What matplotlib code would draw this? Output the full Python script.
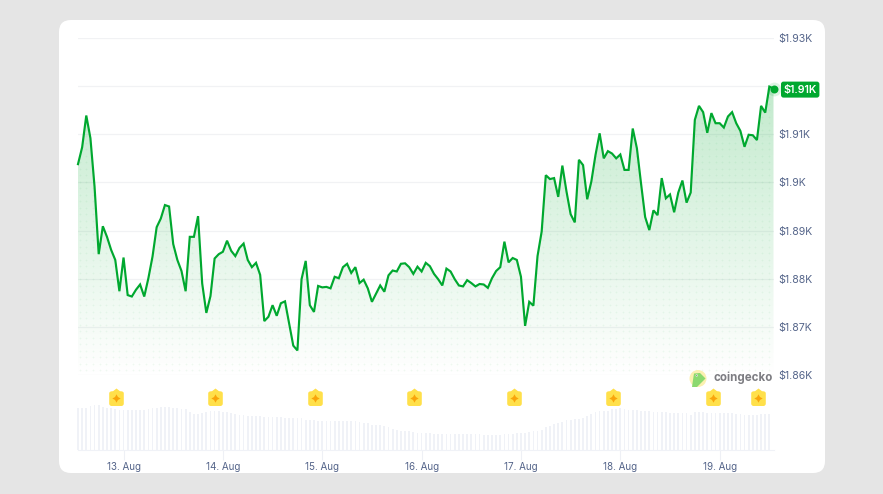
import numpy as np
import matplotlib
matplotlib.use("Agg")
import matplotlib.pyplot as plt
from matplotlib.patches import FancyBboxPatch, Circle, Polygon
from matplotlib.path import Path
from matplotlib.transforms import IdentityTransform

plt.rcParams['font.family'] = ['Inter', 'DejaVu Sans']

# hourly prices in USD, from the start of the window
prices = [
    1903.8, 1907.3, 1913.9, 1909.2, 1899.1, 1885.1, 1890.9, 1888.7, 1886.0, 1883.9,
    1877.4, 1884.4, 1876.6, 1876.3, 1877.7, 1878.8, 1876.3, 1880.1, 1884.6, 1890.7,
    1892.5, 1895.3, 1895.0, 1887.2, 1883.9, 1881.6, 1877.4, 1888.7, 1888.7, 1893.0,
    1879.0, 1872.9, 1876.4, 1884.2, 1885.1, 1885.6, 1887.9, 1885.8, 1884.7, 1886.4,
    1887.3, 1883.9, 1882.4, 1883.3, 1880.8, 1871.2, 1872.1, 1874.5, 1872.3, 1874.9,
    1875.3, 1870.7, 1866.1, 1865.1, 1879.9, 1883.7, 1874.5, 1873.1, 1878.5, 1878.2,
    1878.3, 1878.0, 1880.4, 1880.1, 1882.4, 1883.1, 1881.2, 1882.4, 1879.1, 1879.8,
    1878.0, 1875.2, 1876.9, 1878.6, 1877.3, 1880.7, 1881.7, 1881.5, 1883.1, 1883.2,
    1882.4, 1881.0, 1882.5, 1881.5, 1883.3, 1882.6, 1881.0, 1879.9, 1878.6, 1882.1,
    1881.5, 1879.9, 1878.6, 1878.4, 1879.7, 1879.1, 1878.4, 1878.9, 1878.8, 1878.1,
    1880.1, 1881.6, 1882.4, 1887.7, 1883.4, 1884.3, 1883.9, 1880.4, 1870.2, 1875.2,
    1874.4, 1884.7, 1889.8, 1901.5, 1900.7, 1900.9, 1897.0, 1903.5, 1898.1, 1893.4,
    1891.7, 1904.7, 1903.6, 1896.5, 1900.2, 1905.7, 1910.2, 1905.0, 1906.5, 1906.0,
    1905.0, 1905.8, 1902.6, 1902.6, 1911.2, 1907.1, 1899.8, 1892.8, 1890.1, 1894.2,
    1893.2, 1900.9, 1896.7, 1897.5, 1893.8, 1897.9, 1900.4, 1895.8, 1897.9, 1913.0,
    1915.9, 1914.6, 1910.3, 1914.4, 1912.3, 1912.3, 1911.4, 1913.7, 1914.6, 1912.3,
    1910.7, 1907.4, 1909.9, 1909.8, 1908.8, 1915.9, 1914.5, 1919.9, 1919.5,
]

# volume, arbitrary units (no scale shown on the chart)
volumes = [
    41.7, 41.7, 41.7, 44.0, 44.7, 45.0, 42.7, 42.3, 42.0, 41.0,
    40.0, 39.7, 39.7, 39.7, 39.7, 40.0, 40.3, 41.0, 42.0, 42.5,
    43.0, 43.0, 42.7, 42.5, 42.0, 41.0, 40.7, 38.0, 36.0, 36.0,
    37.0, 38.0, 38.7, 38.7, 38.7, 38.0, 37.7, 37.0, 36.5, 35.5,
    35.0, 34.0, 33.7, 33.7, 33.7, 33.3, 33.0, 33.0, 33.0, 32.7,
    32.5, 32.5, 32.5, 32.5, 32.5, 30.0, 29.8, 29.7, 29.5, 29.3,
    29.3, 29.3, 29.3, 29.3, 29.0, 29.0, 29.0, 29.0, 28.3, 27.5,
    27.0, 25.5, 25.3, 25.0, 24.5, 23.0, 21.5, 20.5, 19.5, 19.0,
    18.7, 18.0, 17.3, 17.3, 17.0, 16.8, 16.4, 16.4, 16.3, 16.3,
    16.3, 16.3, 16.3, 16.3, 16.3, 16.3, 16.2, 16.0, 15.5, 15.0,
    14.7, 15.0, 15.4, 15.7, 16.0, 16.3, 16.6, 17.0, 17.3, 18.0,
    18.8, 19.5, 20.0, 23.3, 24.5, 26.0, 27.3, 28.5, 29.7, 30.2,
    30.7, 31.2, 31.7, 34.0, 36.0, 37.7, 39.3, 39.3, 39.3, 41.0,
    41.3, 41.7, 40.8, 40.0, 40.3, 39.8, 39.3, 39.0, 38.7, 38.4,
    38.0, 37.8, 37.7, 37.5, 37.3, 37.0, 36.8, 36.7, 35.3, 37.7,
    37.8, 38.0, 37.5, 37.0, 37.0, 36.8, 36.7, 36.7, 36.7, 36.4,
    36.0, 35.5, 35.0, 35.2, 35.5, 35.7, 36.0, 36.3,
]

hours = np.arange(len(prices))
vol_hours = np.arange(len(volumes))

y_ticks = [1860, 1870, 1880, 1890, 1900, 1910, 1920, 1930]
y_labels = ['$1.86K', '$1.87K', '$1.88K', '$1.89K', '$1.9K', '$1.91K', '', '$1.93K']
day_hours = [11, 35, 59, 83, 107, 131, 155]
day_labels = ['13. Aug', '14. Aug', '15. Aug', '16. Aug', '17. Aug', '18. Aug', '19. Aug']
event_hours = [9.2, 33.2, 57.3, 81.2, 105.3, 129.2, 153.3, 164.2]
last_label = '$1.91K'

GREEN = '#00a82f'
TEXT = '#55658a'
W, H = 883, 494


# figure coords from reference pixel coords
def fx(x):
    return x / W


def fy(y):
    return 1 - y / H


def add_px_patch(p, z=5):
    # patch given in display pixels, y up
    p.set_transform(IdentityTransform())
    p.set_zorder(z)
    p.set_figure(fig)
    fig.patches.append(p)


fig = plt.figure(figsize=(W / 100, H / 100), dpi=100, facecolor='#e5e5e5')

# white card
add_px_patch(FancyBboxPatch((59, H - 473), 766, 453, boxstyle='round,pad=0,rounding_size=12',
                            facecolor='white', edgecolor='none'), z=-1)

left, right = 78, 773.5

# price panel
ax = fig.add_axes([fx(left), fy(375), (right - left) / W, (375 - 38) / H])
ax.patch.set_alpha(0)
for s in ax.spines.values():
    s.set_visible(False)

# gradient under the line, clipped to the area
area = ax.fill_between(hours, prices, 1859.5, color='none', lw=0)
clip = area.get_paths()[0]
grad = np.zeros((256, 2, 4))
grad[..., :3] = matplotlib.colors.to_rgb(GREEN)
grad[..., 3] = np.linspace(0.25, 0.0, 256)[:, None]
im = ax.imshow(grad, extent=[0, 168, 1859.5, 1922], aspect='auto', origin='upper', zorder=1.5)
im.set_clip_path(clip, transform=ax.transData)

# dot texture in the area
gx, gy = np.meshgrid(np.arange(0.4, 168, 1.6), np.arange(1861, 1922, 1.35))
dots = ax.scatter(gx.ravel(), gy.ravel(), s=1.6, color=GREEN, alpha=0.06, lw=0, zorder=1.6)
dots.set_clip_path(clip, transform=ax.transData)

ax.plot(hours, prices, color=GREEN, lw=1.55, zorder=3, solid_joinstyle='miter', clip_on=False)
ax.scatter(hours[-1], prices[-1], s=100, color=GREEN, alpha=0.13, lw=0, zorder=3, clip_on=False)
ax.scatter(hours[-1], prices[-1], s=33, color=GREEN, lw=0, zorder=4, clip_on=False)

ax.set_xlim(0, 168)
ax.set_ylim(1860, 1930)
ax.set_yticks(y_ticks)
ax.set_yticklabels(y_labels)
ax.yaxis.tick_right()
ax.tick_params(axis='y', length=0, pad=3.6, labelsize=7.6, labelcolor=TEXT)
ax.set_xticks([])
ax.grid(axis='y', color='#f1f2f4', lw=0.9)
ax.set_axisbelow(True)

# current price badge
add_px_patch(FancyBboxPatch((781, H - 97.6), 38.4, 16, boxstyle='round,pad=0,rounding_size=2.5',
                            facecolor=GREEN, edgecolor='none'))
fig.text(fx(800.2), fy(89.6), last_label, color='white', fontsize=7.7, weight='semibold',
         ha='center', va='center', zorder=6)

# volume panel
ax_vol = fig.add_axes([fx(left), fy(450), (right - left) / W, 45 / H])
ax_vol.patch.set_alpha(0)
ax_vol.set_xlim(0, 168)
ax_vol.set_ylim(0, 45)
ax_vol.bar(vol_hours, volumes, width=0.42, color='#f0f2f7', lw=0, clip_on=False)
for s in ['top', 'left', 'right']:
    ax_vol.spines[s].set_visible(False)
ax_vol.spines['bottom'].set_color('#f0f2f7')
ax_vol.set_yticks([])
ax_vol.set_xticks(day_hours)
ax_vol.set_xticklabels(day_labels)
ax_vol.tick_params(axis='x', length=7, width=0.8, color='#eef0f5', pad=1.6,
                   labelsize=7.1, labelcolor=TEXT)

# event badges above the volume bars
pin = Path(
    [(-7.3, -5), (-7.3, -6.5), (-6.3, -7.5), (-4.8, -7.5),
     (4.8, -7.5), (6.3, -7.5), (7.3, -6.5), (7.3, -5),
     (7.3, 5), (7.3, 6.5), (6.3, 7.3), (3.5, 7.3), (0, 10), (-3.5, 7.3),
     (-6.3, 7.3), (-7.3, 6.5), (-7.3, 5), (-7.3, -5)],
    [Path.MOVETO, Path.CURVE4, Path.CURVE4, Path.CURVE4,
     Path.LINETO, Path.CURVE4, Path.CURVE4, Path.CURVE4,
     Path.LINETO, Path.CURVE4, Path.CURVE4, Path.CURVE4, Path.LINETO, Path.LINETO,
     Path.CURVE4, Path.CURVE4, Path.CURVE4, Path.CLOSEPOLY])
ey = [52] * len(event_hours)
ax_vol.scatter(event_hours, ey, s=207, marker=pin, color='#ffe04a', lw=0, clip_on=False, zorder=5)
ax_vol.scatter(event_hours, ey, s=36, marker=(4, 1, 0), color='#f9a50b', lw=0, clip_on=False, zorder=6)

# coingecko mark
add_px_patch(Circle((698, H - 378.5), 8.5, facecolor='#fbf0b0', edgecolor='none'))
blob = [(694, 373.5), (700, 373), (705.5, 378.5), (701, 383), (697, 387), (692, 387), (693, 380)]
add_px_patch(Polygon([(x, H - y) for x, y in blob], closed=True, facecolor='#8bd96f', edgecolor='none'), z=6)
add_px_patch(Circle((696.7, H - 375.5), 1.1, facecolor='#f4f4f0', edgecolor='none'), z=7)
add_px_patch(Circle((696.7, H - 375.5), 0.5, facecolor='#666666', edgecolor='none'), z=8)
fig.text(fx(713), fy(378), 'coingecko', color='#7d7d82', fontsize=8.3, weight='bold',
         ha='left', va='center', zorder=6)

fig.savefig('out.png', dpi=100, facecolor=fig.get_facecolor())
